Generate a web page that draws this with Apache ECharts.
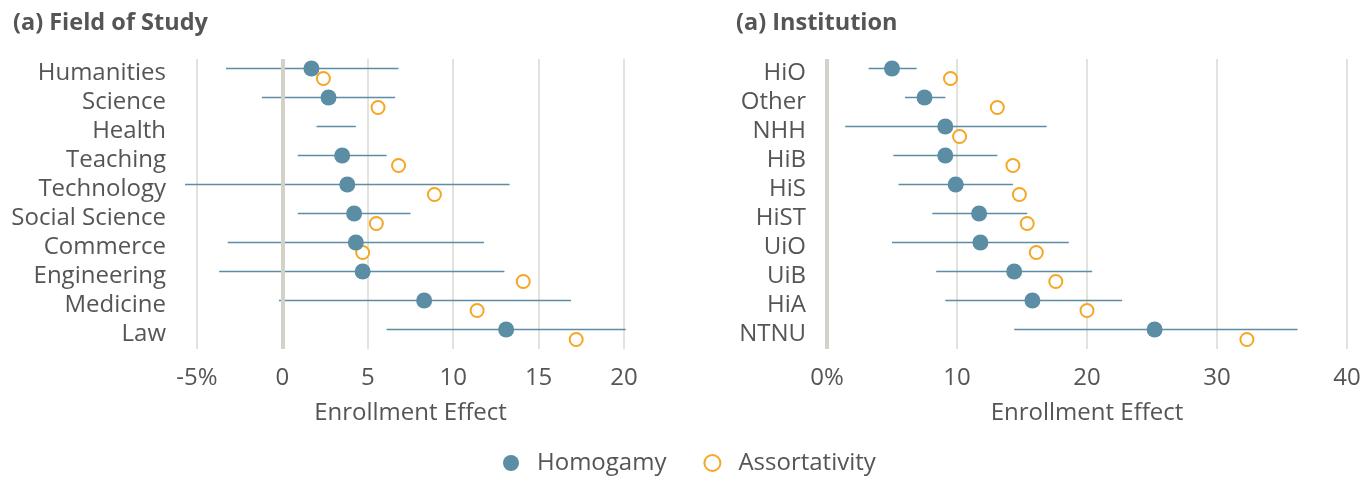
<!DOCTYPE html>
<html><head><meta charset="utf-8">
<script src="https://cdn.jsdelivr.net/npm/echarts@6/dist/echarts.min.js"></script>
<style>html,body{margin:0;padding:0;background:#fff}#c{width:1372px;height:477px}</style>
</head><body><div id="c"></div>
<script>
// Left panel: Field of Study
const fields = ['Humanities','Science','Health','Teaching','Technology','Social Science','Commerce','Engineering','Medicine','Law'];
const fieldHomogamy = [1.7, 2.7, null, 3.5, 3.8, 4.2, 4.3, 4.7, 8.3, 13.1];
const fieldAssort   = [2.4, 5.6, null, 6.8, 8.9, 5.5, 4.7, 14.1, 11.4, 17.2];
const fieldLow      = [-3.3, -1.2, 2.0, 0.9, -5.7, 0.9, -3.2, -3.7, -0.2, 6.1];
const fieldHigh     = [6.8, 6.6, 4.3, 6.1, 13.3, 7.5, 11.8, 13.0, 16.9, 20.1];
const fieldTicks    = [-5, 0, 5, 10, 15, 20];

// Right panel: Institution
const insts = ['HiO','Other','NHH','HiB','HiS','HiST','UiO','UiB','HiA','NTNU'];
const instHomogamy = [5.0, 7.5, 9.1, 9.1, 9.9, 11.7, 11.8, 14.4, 15.8, 25.2];
const instAssort   = [9.5, 13.1, 10.2, 14.3, 14.8, 15.4, 16.1, 17.6, 20.0, 32.3];
const instLow      = [3.2, 6.0, 1.4, 5.1, 5.5, 8.1, 5.0, 8.4, 9.1, 14.4];
const instHigh     = [6.9, 9.1, 16.9, 13.1, 14.3, 15.4, 18.6, 20.4, 22.7, 36.2];
const instTicks    = [0, 10, 20, 30, 40];

const BLUE = '#5b8da5', ORANGE = '#f5a623', TXT = '#555555', FONT = 'Open Sans', FS = 24;
const DOT_SHIFT = -5, CIRC_SHIFT = 5;

function ciSeries(idx, lo, hi) {
  return {
    type: 'custom', xAxisIndex: idx, yAxisIndex: idx, clip: false, silent: true,
    data: lo.map((l, i) => [l, hi[i], i]),
    renderItem: function (params, api) {
      const a = api.coord([api.value(0), api.value(2)]);
      const b = api.coord([api.value(1), api.value(2)]);
      return { type: 'line', shape: { x1: a[0], y1: a[1] + DOT_SHIFT, x2: b[0], y2: b[1] + DOT_SHIFT },
        style: { stroke: BLUE, lineWidth: 1.6 } };
    },
    markLine: { silent: true, symbol: 'none', label: { show: false },
      lineStyle: { color: '#d2d2c8', width: 4, type: 'solid' }, data: [{ xAxis: 0 }] },
    z: 2
  };
}
function dotSeries(idx, vals) {
  return { name: 'Homogamy', type: 'scatter', xAxisIndex: idx, yAxisIndex: idx,
    symbol: 'circle', symbolSize: 16, symbolOffset: [0, DOT_SHIFT],
    itemStyle: { color: BLUE, opacity: 1 },
    data: vals.map((v, i) => v == null ? null : [v, i]).filter(d => d), z: 4 };
}
function circSeries(idx, vals) {
  return { name: 'Assortativity', type: 'scatter', xAxisIndex: idx, yAxisIndex: idx,
    symbol: 'emptyCircle', symbolSize: 13, symbolOffset: [0, CIRC_SHIFT],
    itemStyle: { color: ORANGE, borderColor: ORANGE, borderWidth: 2, opacity: 1 },
    data: vals.map((v, i) => v == null ? null : [v, i]).filter(d => d), z: 3 };
}
function xAxis(idx, ticks, firstFmt) {
  return { type: 'value', gridIndex: idx, min: ticks[0], max: ticks[ticks.length - 1], interval: ticks[1] - ticks[0],
    name: 'Enrollment Effect', nameLocation: 'middle', nameGap: 52,
    nameTextStyle: { color: TXT, fontSize: FS, fontFamily: FONT },
    axisLine: { show: false }, axisTick: { show: false },
    axisLabel: { color: TXT, fontSize: FS, fontFamily: FONT, margin: 17,
      formatter: v => v === ticks[0] ? firstFmt : String(v) },
    splitLine: { show: true, lineStyle: { color: '#dadad2', width: 1.5 } } };
}
function yAxis(idx, cats, margin) {
  return { type: 'category', gridIndex: idx, data: cats, inverse: true,
    axisLine: { show: false }, axisTick: { show: false }, splitLine: { show: false },
    axisLabel: { color: TXT, fontSize: FS, fontFamily: FONT, margin: margin, interval: 0,
      hideOverlap: false, lineHeight: 24, padding: [11, 0, 0, 0] } };
}

const chart = echarts.init(document.getElementById('c'), null, { renderer: 'canvas' });
chart.setOption({
  animation: false,
  textStyle: { fontFamily: FONT },
  title: [
    { text: '(a) Field of Study', left: 8, top: 6, textStyle: { color: TXT, fontSize: 23.5, fontWeight: 'bold', fontFamily: FONT } },
    { text: '(a) Institution', left: 731, top: 6, textStyle: { color: TXT, fontSize: 23.5, fontWeight: 'bold', fontFamily: FONT } }
  ],
  legend: { bottom: -3, left: 498, itemGap: 37, itemWidth: 16, itemHeight: 16,
    textStyle: { color: TXT, fontSize: FS, fontFamily: FONT, padding: [0, 0, 0, 13] },
    data: ['Homogamy', 'Assortativity'] },
  grid: [
    { left: 197, width: 427, top: 59, height: 290 },
    { left: 827, width: 520, top: 59, height: 290 }
  ],
  xAxis: [xAxis(0, fieldTicks, '-5%'), xAxis(1, instTicks, '0%')],
  yAxis: [yAxis(0, fields, 31), yAxis(1, insts, 21)],
  series: [
    ciSeries(0, fieldLow, fieldHigh), dotSeries(0, fieldHomogamy), circSeries(0, fieldAssort),
    ciSeries(1, instLow, instHigh), dotSeries(1, instHomogamy), circSeries(1, instAssort)
  ]
});
</script></body></html>
